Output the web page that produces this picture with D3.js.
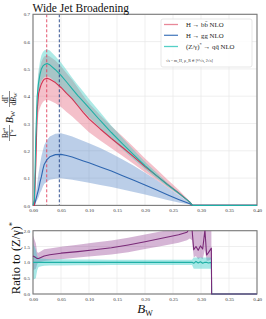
<!DOCTYPE html>
<html><head><meta charset="utf-8">
<script src="https://cdn.jsdelivr.net/npm/d3@7"></script>
<style>body{margin:0;background:#fff}svg{display:block}</style>
</head><body>
<svg id="c" width="266" height="319"></svg>
<script>
// ---------- data ----------
const B = [0, 0.0025, 0.005, 0.0075, 0.01, 0.0125, 0.015, 0.0175, 0.02, 0.025, 0.03, 0.04, 0.05, 0.06, 0.07, 0.08, 0.09, 0.10, 0.12, 0.14, 0.16, 0.18, 0.20, 0.22, 0.24, 0.26, 0.28, 0.285, 0.30, 0.35, 0.40];
const bbLine = [0, 0, 0.15, 0.35, 0.41, 0.43, 0.445, 0.455, 0.462, 0.466, 0.462, 0.45, 0.432, 0.41, 0.39, 0.365, 0.34, 0.317, 0.28, 0.245, 0.212, 0.178, 0.142, 0.11, 0.077, 0.046, 0.012, 0, 0, 0, 0];
const bbHi = [0, 0, 0.18, 0.41, 0.48, 0.505, 0.525, 0.537, 0.545, 0.55, 0.545, 0.531, 0.51, 0.484, 0.46, 0.431, 0.401, 0.374, 0.33, 0.29, 0.252, 0.213, 0.172, 0.134, 0.095, 0.057, 0.015, 0, 0, 0, 0];
const bbLo = [0, 0, 0.1, 0.29, 0.34, 0.357, 0.37, 0.378, 0.383, 0.387, 0.384, 0.374, 0.36, 0.342, 0.326, 0.306, 0.287, 0.268, 0.238, 0.209, 0.181, 0.152, 0.121, 0.094, 0.066, 0.039, 0.01, 0, 0, 0, 0];
const ggLine = [0, 0, 0.02, 0.04, 0.06, 0.085, 0.105, 0.13, 0.15, 0.168, 0.178, 0.186, 0.187, 0.183, 0.177, 0.17, 0.163, 0.156, 0.141, 0.126, 0.109, 0.092, 0.075, 0.057, 0.039, 0.022, 0.006, 0, 0, 0, 0];
const ggHi = [0, 0, 0.04, 0.08, 0.12, 0.15, 0.18, 0.2, 0.22, 0.24, 0.252, 0.262, 0.264, 0.259, 0.252, 0.244, 0.236, 0.228, 0.21, 0.19, 0.168, 0.145, 0.12, 0.094, 0.066, 0.038, 0.01, 0, 0, 0, 0];
const ggLo = [0, 0, 0.01, 0.02, 0.03, 0.045, 0.055, 0.068, 0.078, 0.088, 0.094, 0.098, 0.099, 0.097, 0.094, 0.09, 0.087, 0.083, 0.075, 0.067, 0.058, 0.049, 0.04, 0.03, 0.02, 0.011, 0.003, 0, 0, 0, 0];
const qqLine = [0, 0.02, 0.25, 0.40, 0.45, 0.48, 0.50, 0.51, 0.515, 0.52, 0.515, 0.497, 0.476, 0.452, 0.427, 0.402, 0.38, 0.357, 0.311, 0.267, 0.225, 0.185, 0.146, 0.11, 0.076, 0.045, 0.012, 0, 0, 0, 0];
const qqHi = [0, 0.025, 0.28, 0.44, 0.495, 0.528, 0.55, 0.561, 0.567, 0.572, 0.567, 0.546, 0.523, 0.496, 0.468, 0.441, 0.416, 0.39, 0.341, 0.292, 0.247, 0.203, 0.16, 0.121, 0.083, 0.05, 0.013, 0, 0, 0, 0];
const qqLo = [0, 0.015, 0.22, 0.365, 0.41, 0.437, 0.455, 0.464, 0.469, 0.473, 0.469, 0.452, 0.433, 0.411, 0.388, 0.365, 0.345, 0.324, 0.283, 0.243, 0.205, 0.168, 0.133, 0.1, 0.069, 0.041, 0.011, 0, 0, 0, 0];

const rB = [0, 0.005, 0.0075, 0.01, 0.015, 0.02, 0.03, 0.05, 0.08, 0.11, 0.14, 0.17, 0.20, 0.23, 0.26, 0.275, 0.280, 0.284, 0.287, 0.291, 0.295, 0.299, 0.303, 0.307, 0.310, 0.313, 0.3185, 0.319, 0.35, 0.40];
const ratioLine = [1.2, 1.15, 1.12, 1.12, 1.16, 1.2, 1.24, 1.29, 1.34, 1.40, 1.46, 1.55, 1.65, 1.76, 1.87, 1.95, 2.1, 2.05, 1.4, 1.5, 1.38, 1.52, 1.42, 2.02, 1.23, 1.3, 1.45, 0, 0, 0];
const ratioHi = [1.85, 1.6, 1.32, 1.3, 1.36, 1.41, 1.44, 1.49, 1.56, 1.63, 1.69, 1.78, 1.88, 1.98, 2.08, 2.15, 2.3, 2.3, 2.1, 2.2, 2.1, 2.2, 2.1, 2.3, 2.0, 2.05, 2.1, 0, 0, 0];
const ratioLo = [0.75, 0.8, 0.95, 1.0, 1.02, 1.04, 1.06, 1.1, 1.15, 1.2, 1.25, 1.32, 1.42, 1.52, 1.62, 1.7, 1.75, 1.7, 1.15, 1.2, 1.1, 1.15, 1.1, 1.4, 1.05, 1.05, 1.1, 0, 0, 0];
const refLine = [1, 1, 1, 1, 1, 1, 1, 1, 1, 1, 1, 1, 1, 1, 1, 1, 1, 1, 0.97, 1.03, 0.98, 1.02, 0.97, 1.0, 1.0, 0.98, 1.0, 0, 0, 0];
const refHi = [1.6, 1.4, 1.2, 1.14, 1.12, 1.11, 1.1, 1.1, 1.09, 1.09, 1.08, 1.08, 1.08, 1.08, 1.08, 1.08, 1.08, 1.08, 1.15, 1.15, 1.15, 1.15, 1.15, 1.15, 1.15, 1.15, 1.15, 0, 0, 0];
const refLo = [0.45, 0.5, 0.75, 0.85, 0.88, 0.89, 0.9, 0.9, 0.91, 0.91, 0.92, 0.92, 0.92, 0.92, 0.92, 0.92, 0.92, 0.92, 0.8, 0.8, 0.8, 0.8, 0.8, 0.8, 0.8, 0.8, 0.8, 0, 0, 0];

const dashBB = 0.0245, dashGG = 0.047;
const xTicks = [0, 0.05, 0.10, 0.15, 0.20, 0.25, 0.30, 0.35, 0.40];
const yTicks = [0, 0.1, 0.2, 0.3, 0.4, 0.5, 0.6, 0.7];
const rTicks = [0, 0.5, 1.0, 1.5, 2.0];
const legendLabels = ["H → bb̄ NLO", "H → gg NLO", "(Z/γ)* → qq̄ NLO"];

// ---------- drawing ----------
const svg = d3.select("#c");
const FONT = "'Liberation Serif', 'DejaVu Serif', serif";
const L = 33, R = 257;
const x = d3.scaleLinear().domain([0, 0.4]).range([L, R]);
const y = d3.scaleLinear().domain([0, 0.7]).range([205.4, 14.3]);
const yr = d3.scaleLinear().domain([0, 2]).range([294, 230.7]);

const defs = svg.append("defs");
defs.append("clipPath").attr("id", "cm").append("rect").attr("x", L).attr("y", 14.3).attr("width", R - L).attr("height", 205.4 - 14.3);
defs.append("clipPath").attr("id", "cr").append("rect").attr("x", L).attr("y", 230.7).attr("width", R - L).attr("height", 294 - 230.7);
defs.append("clipPath").attr("id", "cm2").append("rect").attr("x", L - 1).attr("y", 14.3).attr("width", R - L + 2).attr("height", 205.4 - 14.3 + 1);
defs.append("clipPath").attr("id", "cr2").append("rect").attr("x", L - 1).attr("y", 230.7).attr("width", R - L + 2).attr("height", 294 - 230.7 + 1);

function grid(ys, yScale, top, bot) {
  const g = svg.append("g");
  xTicks.forEach(t => g.append("line").attr("x1", x(t)).attr("x2", x(t)).attr("y1", top).attr("y2", bot).attr("stroke", "#e8e8e8").attr("stroke-width", 0.7));
  ys.forEach(t => g.append("line").attr("x1", L).attr("x2", R).attr("y1", yScale(t)).attr("y2", yScale(t)).attr("stroke", "#e8e8e8").attr("stroke-width", 0.7));
}
grid(yTicks, y, 14.3, 205.4);
grid(rTicks, yr, 230.7, 294);

function band(g, xs, lo, hi, ys, color) {
  const a = d3.area().x((d, i) => x(xs[i])).y0((d, i) => ys(lo[i])).y1((d, i) => ys(hi[i]));
  g.append("path").attr("d", a(xs)).attr("fill", color).attr("stroke", "none");
}
function line(g, xs, v, ys, color, w) {
  const l = d3.line().x((d, i) => x(xs[i])).y((d, i) => ys(v[i]));
  g.append("path").attr("d", l(xs)).attr("fill", "none").attr("stroke", color).attr("stroke-width", w).attr("stroke-linejoin", "round");
}
const mainG = svg.append("g").attr("clip-path", "url(#cm)");
band(mainG, B, bbLo, bbHi, y, "rgba(228,105,128,0.42)");
band(mainG, B, ggLo, ggHi, y, "rgba(75,125,195,0.38)");
band(mainG, B, qqLo, qqHi, y, "rgba(60,205,195,0.42)");
mainG.append("line").attr("x1", x(dashBB)).attr("x2", x(dashBB)).attr("y1", 14.3).attr("y2", 205.4).attr("stroke", "#e0405c").attr("stroke-width", 0.9).attr("stroke-dasharray", "3,2");
mainG.append("line").attr("x1", x(dashGG)).attr("x2", x(dashGG)).attr("y1", 14.3).attr("y2", 205.4).attr("stroke", "#1d3f85").attr("stroke-width", 0.9).attr("stroke-dasharray", "3,2");

const rG = svg.append("g").attr("clip-path", "url(#cr)");
band(rG, rB, ratioLo, ratioHi, yr, "rgba(145,60,145,0.38)");
band(rG, rB, refLo, refHi, yr, "rgba(60,205,200,0.45)");

// frames
function frame(top, bot) {
  svg.append("rect").attr("x", L).attr("y", top).attr("width", R - L).attr("height", bot - top).attr("fill", "none").attr("stroke", "#7a7a7a").attr("stroke-width", 1.1);
}
frame(14.3, 205.4);
frame(230.7, 294);

// lines on top of frame
const mainL = svg.append("g").attr("clip-path", "url(#cm2)");
line(mainL, B, ggLine, y, "#2e66b0", 1.1);
line(mainL, B, bbLine, y, "#cf3352", 1.1);
line(mainL, B, qqLine, y, "#1fb0a6", 1.1);
const rL = svg.append("g").attr("clip-path", "url(#cr2)");
line(rL, rB, refLine, yr, "#1fb0a6", 1.1);
line(rL, rB, ratioLine, yr, "#7a2a78", 1.1);

// axes
function styleAxis(g) {
  g.select(".domain").remove();
  g.selectAll("text").attr("font-family", FONT).attr("font-size", 5).attr("fill", "#333");
}
svg.append("g").attr("transform", "translate(0,205.4)").call(d3.axisBottom(x).tickValues(xTicks).tickFormat(d3.format(".2f")).tickSize(0).tickPadding(3)).call(styleAxis);
svg.append("g").attr("transform", "translate(0,294)").call(d3.axisBottom(x).tickValues(xTicks).tickFormat(d3.format(".2f")).tickSize(0).tickPadding(3)).call(styleAxis);
svg.append("g").attr("transform", "translate(" + L + ",0)").call(d3.axisLeft(y).tickValues(yTicks).tickFormat(d3.format(".1f")).tickSize(0).tickPadding(3)).call(styleAxis);
svg.append("g").attr("transform", "translate(" + L + ",0)").call(d3.axisLeft(yr).tickValues(rTicks).tickFormat(d3.format(".1f")).tickSize(0).tickPadding(3)).call(styleAxis);

// title
svg.append("text").attr("x", 32.5).attr("y", 11.5).attr("font-family", FONT).attr("font-size", 11.5).attr("fill", "#111").text("Wide Jet Broadening");

// x label
const xl = svg.append("text").attr("x", 145).attr("y", 313).attr("text-anchor", "middle").attr("font-family", FONT).attr("font-size", 13).attr("fill", "#111");
xl.append("tspan").attr("font-style", "italic").text("B");
xl.append("tspan").attr("font-size", 8).attr("dy", 2.5).text("W");

// ratio y label
const rl = svg.append("text").attr("transform", "translate(19.5,258) rotate(-90)").attr("text-anchor", "middle").attr("font-family", FONT).attr("font-size", 12.5).attr("fill", "#111");
rl.append("tspan").text("Ratio to (Z/γ)");
rl.append("tspan").attr("font-size", 8.5).attr("dy", -4.5).text("*");

// main y label
const yl = svg.append("g").attr("transform", "translate(9.5,115) rotate(-90)").attr("font-family", FONT).attr("fill", "#111");
function frac(cx, numParts, denParts) {
  const n = yl.append("text").attr("x", cx).attr("y", -1.6).attr("text-anchor", "middle").attr("font-size", 7.5);
  numParts.forEach(p => n.append("tspan").attr("font-size", p.s || 7.5).attr("dy", p.dy || 0).attr("font-style", p.it ? "italic" : null).text(p.t));
  const d = yl.append("text").attr("x", cx).attr("y", 6.2).attr("text-anchor", "middle").attr("font-size", 7.5);
  denParts.forEach(p => d.append("tspan").attr("font-size", p.s || 7.5).attr("dy", p.dy || 0).attr("font-style", p.it ? "italic" : null).text(p.t));
  yl.append("line").attr("x1", cx - 8).attr("x2", cx + 8).attr("y1", 0).attr("y2", 0).attr("stroke", "#111").attr("stroke-width", 0.5);
}
frac(-18, [{t: "Br"}, {t: "a", s: 5, dy: -3, it: true}], [{t: "Γ"}, {t: "a", s: 5, dy: -3, it: true}]);
const bw = yl.append("text").attr("x", -2).attr("y", 3.5).attr("text-anchor", "middle").attr("font-size", 10);
bw.append("tspan").attr("font-style", "italic").text("B");
bw.append("tspan").attr("font-size", 6.5).attr("dy", 1.8).text("W");
frac(16, [{t: "d"}, {t: "Γ"}], [{t: "d"}, {t: "B", it: true}, {t: "W", s: 5, dy: 1.5}]);

// legend
const lg = svg.append("g");
lg.append("rect").attr("x", 161).attr("y", 19).attr("width", 91).attr("height", 48).attr("rx", 2).attr("fill", "#fff").attr("fill-opacity", 0.85).attr("stroke", "#dddddd").attr("stroke-width", 0.7);
const lcol = ["#e88898", "#4f80c0", "#55d0c6"];
const ly = [24.5, 35.3, 46.5];
legendLabels.forEach((lab, i) => {
  lg.append("line").attr("x1", 164).attr("x2", 178).attr("y1", ly[i]).attr("y2", ly[i]).attr("stroke", lcol[i]).attr("stroke-width", 1.3);
  const t = lg.append("text").attr("x", 186).attr("y", ly[i] + 2.3).attr("font-family", FONT).attr("font-size", 6.8).attr("fill", "#222");
  if (i === 2) {
    t.append("tspan").text("(Z/γ)");
    t.append("tspan").attr("font-size", 4.5).attr("dy", -2.5).text("*");
    t.append("tspan").attr("dy", 2.5).text(" → qq̄ NLO");
  } else {
    t.text(lab);
  }
});
lg.append("text").attr("x", 166).attr("y", 62).attr("font-family", FONT).attr("font-size", 4).attr("fill", "#333").text("√s = m_H, μ_R ∈ [½√s, 2√s]");
</script>
</body></html>
